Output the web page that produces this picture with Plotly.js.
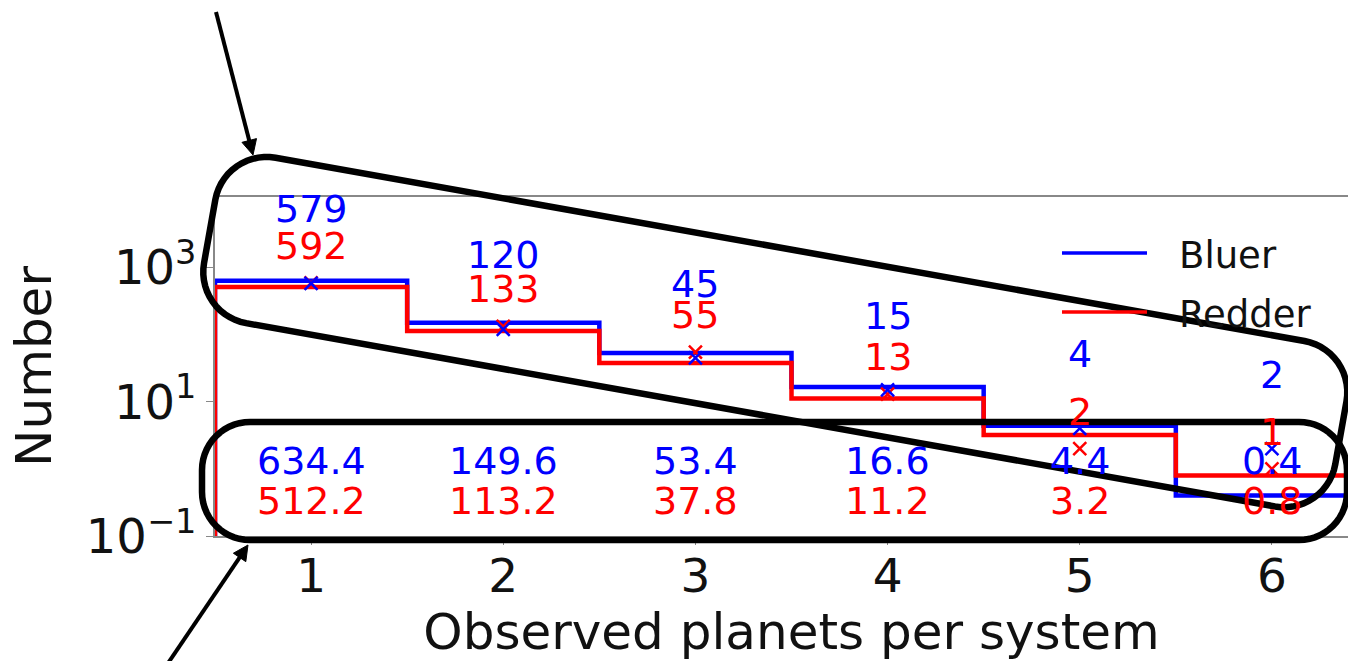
<!DOCTYPE html>
<html>
<head>
<meta charset="utf-8">
<script src="https://cdn.plot.ly/plotly-3.0.1.min.js"></script>
<style>
  html, body { margin: 0; padding: 0; overflow: hidden; background: #fff; }
  #chart { width: 1368px; height: 661px; }
</style>
</head>
<body>
<div id="chart"></div>
<script>
// ---- data ----
const categories = [1, 2, 3, 4, 5, 6];
const binEdges = [0.5, 1.5, 2.5, 3.5, 4.5, 5.5, 6.5];
const bluePredicted = [634.4, 149.6, 53.4, 16.6, 4.4, 0.4];
const redPredicted = [512.2, 113.2, 37.8, 11.2, 3.2, 0.8];
const blueObserved = [579, 120, 45, 15, 4, 2];
const redObserved = [592, 133, 55, 13, 2, 1];
const yTickVals = [0.1, 10, 1000];
const yTickText = ['10<sup>\u22121</sup>', '10<sup>1</sup>', '10<sup>3</sup>'];
const floorValue = 1e-3;

const BLUE = '#0000ff', RED = '#ff0000';
const FONT = 'DejaVu Sans, Liberation Sans, sans-serif';

// plot geometry (pixels)
const M = { l: 215, r: 0, t: 197, b: 125 };
const FIG_W = 1368, FIG_H = 661;
const PW = FIG_W - M.l - M.r, PH = FIG_H - M.t - M.b;
const toPaperX = px => (px - M.l) / PW;
const toPaperY = py => (M.t + PH - py) / PH;

function stepTrace(pred, color, name) {
  const xs = [binEdges[0]].concat(binEdges);
  const ys = [floorValue].concat(pred, [pred[pred.length - 1]]);
  return {
    x: xs, y: ys, type: 'scatter', mode: 'lines', name: name,
    line: { color: color, width: 4.5, shape: 'hv' },
    showlegend: false, hoverinfo: 'skip'
  };
}
function markerTrace(obs, color, name) {
  return {
    x: categories, y: obs, type: 'scatter', mode: 'markers', name: name,
    marker: { symbol: 'x-thin', size: 13, color: color, line: { color: color, width: 2.5 } },
    showlegend: false
  };
}

const traces = [
  stepTrace(bluePredicted, BLUE, 'Bluer'),
  stepTrace(redPredicted, RED, 'Redder'),
  markerTrace(redObserved, RED, 'Redder observed'),
  markerTrace(blueObserved, BLUE, 'Bluer observed')
];

// ---- annotations ----
const annotations = [];
const lab = (x, y, xref, yref, text, size, color, extra) =>
  Object.assign({ x: x, y: y, xref: xref, yref: yref, text: text, showarrow: false,
    xanchor: 'center', yanchor: 'middle', font: { family: FONT, size: size, color: color } }, extra || {});
categories.forEach((c, i) => {
  annotations.push(lab(c, Math.log10(blueObserved[i]), 'x', 'y', String(blueObserved[i]), 38, BLUE, { yshift: 74 }));
  annotations.push(lab(c, Math.log10(redObserved[i]), 'x', 'y', String(redObserved[i]), 38, RED, { yshift: 37 }));
  annotations.push(lab(c, toPaperY(461), 'x', 'paper', bluePredicted[i].toFixed(1), 38, BLUE));
  annotations.push(lab(c, toPaperY(501), 'x', 'paper', redPredicted[i].toFixed(1), 38, RED));
});
// legend (manual)
annotations.push(lab(toPaperX(1177), toPaperY(255), 'paper', 'paper', 'Bluer', 37, '#111', { xanchor: 'left' }));
annotations.push(lab(toPaperX(1177), toPaperY(314), 'paper', 'paper', 'Redder', 37, '#111', { xanchor: 'left' }));

// ---- shapes ----
function roundedBoxPath(u0, u1, v0, v1, r, deg) {
  const th = deg * Math.PI / 180, c = Math.cos(th), s = Math.sin(th);
  const pts = [];
  const arc = (cu, cv, a0, a1) => {
    const n = 14;
    for (let k = 0; k <= n; k++) {
      const a = (a0 + (a1 - a0) * k / n) * Math.PI / 180;
      pts.push([cu + r * Math.cos(a), cv + r * Math.sin(a)]);
    }
  };
  arc(u1 - r, v0 + r, -90, 0);
  arc(u1 - r, v1 - r, 0, 90);
  arc(u0 + r, v1 - r, 90, 180);
  arc(u0 + r, v0 + r, 180, 270);
  return pts.map((p, i) => {
    const x = p[0] * c - p[1] * s, y = p[0] * s + p[1] * c;
    return (i === 0 ? 'M' : 'L') + toPaperX(x).toFixed(5) + ',' + toPaperY(y).toFixed(5);
  }).join(' ') + ' Z';
}
// arrow from tail (tx,ty) to tip (hx,hy), pixel coordinates
function arrowShapes(tx, ty, hx, hy) {
  const dx = hx - tx, dy = hy - ty, len = Math.hypot(dx, dy);
  const ux = dx / len, uy = dy / len, nx = -uy, ny = ux;
  const headL = 15, headW = 7.5;
  const bx = hx - ux * headL, by = hy - uy * headL;
  const P = (x, y) => toPaperX(x).toFixed(5) + ',' + toPaperY(y).toFixed(5);
  return [
    { type: 'line', xref: 'paper', yref: 'paper', x0: toPaperX(tx), y0: toPaperY(ty),
      x1: toPaperX(bx + ux * 2), y1: toPaperY(by + uy * 2), line: { color: '#000', width: 4 }, layer: 'above' },
    { type: 'path', xref: 'paper', yref: 'paper',
      path: 'M' + P(hx, hy) + ' L' + P(bx + nx * headW, by + ny * headW) + ' L' + P(bx - nx * headW, by - ny * headW) + ' Z',
      fillcolor: '#000', line: { color: '#000', width: 1 }, layer: 'above' }
  ];
}

const shapes = [
  { type: 'path', xref: 'paper', yref: 'paper', path: roundedBoxPath(202, 1347, 422, 540, 48, 0),
    line: { color: '#000', width: 6.5 }, fillcolor: 'rgba(0,0,0,0)', layer: 'above' },
  { type: 'path', xref: 'paper', yref: 'paper', path: roundedBoxPath(247, 1396, 107, 275, 52, 10.1),
    line: { color: '#000', width: 6.5 }, fillcolor: 'rgba(0,0,0,0)', layer: 'above' },
  { type: 'line', xref: 'paper', yref: 'paper', x0: toPaperX(1062), x1: toPaperX(1147), y0: toPaperY(253), y1: toPaperY(253),
    line: { color: BLUE, width: 3.5 }, layer: 'above' },
  { type: 'line', xref: 'paper', yref: 'paper', x0: toPaperX(1062), x1: toPaperX(1147), y0: toPaperY(312), y1: toPaperY(312),
    line: { color: RED, width: 3.5 }, layer: 'above' }
].concat(arrowShapes(216, 12, 253, 155), arrowShapes(158, 678, 248, 545));

const layout = {
  width: FIG_W, height: FIG_H,
  margin: M,
  paper_bgcolor: '#fff', plot_bgcolor: '#fff',
  showlegend: false,
  font: { family: FONT, color: '#111' },
  xaxis: {
    range: [0.5, 6.5], tickvals: categories, ticktext: categories.map(String),
    showgrid: false, zeroline: false, showline: true, linecolor: '#888', linewidth: 2, mirror: true,
    ticks: 'outside', ticklen: 7, tickcolor: '#888', ticklabelstandoff: -9,
    tickfont: { family: FONT, size: 47, color: '#111' },
    title: { text: 'Observed planets per system', font: { family: FONT, size: 50, color: '#111' }, standoff: 10 },
    automargin: false
  },
  yaxis: {
    type: 'log', range: [-1, 4.05], tickvals: yTickVals, ticktext: yTickText,
    showgrid: false, zeroline: false, showline: true, linecolor: '#888', linewidth: 2, mirror: false,
    ticks: 'outside', ticklen: 7, tickcolor: '#888',
    tickfont: { family: FONT, size: 48, color: '#111' },
    title: { text: 'Number', font: { family: FONT, size: 50, color: '#111' }, standoff: 18 },
    automargin: false
  },
  annotations: annotations,
  shapes: shapes
};

Plotly.newPlot('chart', traces, layout, { staticPlot: true, displayModeBar: false });
</script>
</body>
</html>
